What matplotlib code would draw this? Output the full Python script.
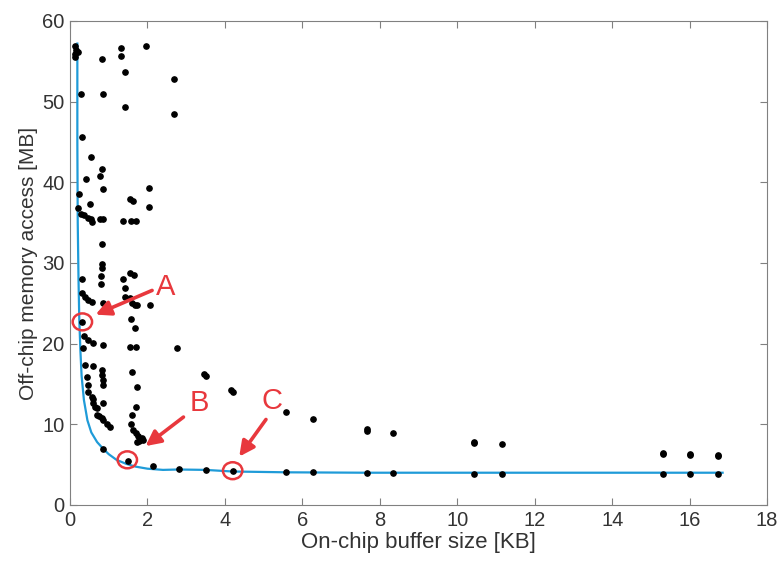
import matplotlib.pyplot as plt
from matplotlib.patches import Ellipse

plt.rcParams['font.family'] = ['Liberation Sans', 'DejaVu Sans']

# design points: buffer size [KB] vs off-chip traffic [MB]
buf_kb = [0.14, 0.15, 0.12, 0.20, 0.14,
          0.28, 0.31, 0.55, 0.83, 0.77, 0.42, 0.84, 0.24, 0.52, 0.21,
          0.29, 0.36, 0.46, 0.55, 0.57, 0.78, 0.84, 0.83, 0.83, 0.82,
          0.81, 0.81, 0.30, 0.30, 0.39, 0.47, 0.56, 0.86, 0.32, 0.36,
          0.47, 0.60, 0.86, 0.34, 0.39, 0.60, 0.82, 0.82, 0.84, 0.86,
          0.43, 0.47, 0.47, 0.56, 0.60, 0.60, 0.65, 0.69, 0.86, 0.69,
          0.76, 0.82, 0.86, 0.95, 1.03, 0.86,
          0.83, 0.84,
          1.31, 1.31, 1.41, 1.41, 1.38, 1.38, 1.41, 1.41,
          1.54, 1.62, 1.58, 1.71, 1.55, 1.65, 1.55, 1.59, 1.68, 1.74,
          1.57, 1.68, 1.55, 1.70, 1.59, 1.72, 1.70, 1.59, 1.57, 1.63,
          1.70, 1.76, 1.81, 1.85, 1.72, 1.79, 1.88,
          1.97, 2.03, 2.04, 2.07,
          2.69, 2.69, 2.77,
          3.47, 3.50, 4.17, 4.20, 5.57, 6.27, 7.66, 7.66, 8.35, 10.44,
          10.44, 11.15, 15.32, 15.32, 16.01, 16.01, 16.72, 16.72,
          1.51, 2.15, 2.82, 3.51, 4.20, 5.58, 6.27, 7.66, 8.35, 10.44,
          11.15, 15.32, 16.01, 16.72]
mem_mb = [56.9, 56.4, 55.9, 56.1, 55.5,
          50.9, 45.6, 43.1, 41.6, 40.8, 40.4, 39.2, 38.5, 37.3, 36.8,
          36.1, 35.9, 35.6, 35.4, 35.1, 35.4, 35.4, 32.4, 29.9, 29.4,
          28.4, 27.4, 28.0, 26.3, 25.8, 25.4, 25.2, 25.1, 22.7, 21.0,
          20.5, 20.1, 19.8, 19.5, 17.4, 17.2, 16.7, 16.1, 15.5, 14.9,
          15.9, 14.9, 14.0, 13.4, 13.2, 12.6, 12.2, 12.0, 12.6, 11.2,
          11.0, 10.8, 10.5, 10.1, 9.7, 7.0,
          55.3, 51.0,
          56.6, 55.6, 53.7, 49.3, 35.2, 28.0, 26.9, 25.8,
          37.9, 37.7, 35.2, 35.2, 28.8, 28.5, 25.6, 25.0, 24.8, 24.8,
          23.1, 21.9, 19.6, 19.6, 16.5, 14.6, 12.1, 11.2, 10.1, 9.3,
          8.9, 8.5, 8.1, 8.3, 7.8, 7.9, 8.0,
          56.9, 39.3, 36.9, 24.8,
          52.8, 48.5, 19.4,
          16.3, 16.0, 14.2, 14.0, 11.5, 10.7, 9.4, 9.2, 8.9, 7.8,
          7.7, 7.56, 6.5, 6.3, 6.36, 6.2, 6.24, 6.05,
          5.4, 4.8, 4.46, 4.34, 4.26, 4.09, 4.05, 4.0, 3.95, 3.9,
          3.9, 3.85, 3.82, 3.8]

# pareto front
front_x = [0.19, 0.19, 0.20, 0.22, 0.24, 0.27, 0.30, 0.36, 0.45, 0.55,
           0.70, 0.85, 1.00, 1.20, 1.45, 1.70, 2.00, 2.40, 2.80, 3.50,
           4.20, 5.60, 7.65, 10.45, 16.85]
front_y = [57.2, 45.0, 35.0, 28.0, 23.0, 19.0, 16.0, 13.0, 10.5, 9.0,
           7.8, 7.0, 6.3, 5.6, 5.1, 4.75, 4.5, 4.35, 4.4, 4.35,
           4.15, 4.05, 4.0, 4.0, 4.0]

# highlighted designs A, B, C
pick_x = [0.32, 1.48, 4.20]
pick_y = [22.7, 5.6, 4.25]
pick_names = ['A', 'B', 'C']
label_xy = [(2.48, 27.0), (3.34, 12.7), (5.21, 12.9)]
arrow_tail = [(2.12, 26.6), (2.93, 10.9), (5.06, 10.6)]
arrow_head = [(0.66, 23.6), (1.95, 7.3), (4.37, 6.0)]

red = '#e8383d'

fig = plt.figure(figsize=(7.82, 5.66), dpi=100)
ax = fig.add_axes([0.0895, 0.1078, 0.8915, 0.8551])

ax.plot(buf_kb, mem_mb, 'o', color='black', markersize=3.8, zorder=3)
ax.plot(front_x, front_y, '-', color='#1f9bd8', linewidth=1.6, zorder=2)

for px, py in zip(pick_x, pick_y):
    ax.add_patch(Ellipse((px, py), 0.5, 2.1, fill=False, edgecolor=red,
                         linewidth=1.8, zorder=4))
for name, lxy, t, h in zip(pick_names, label_xy, arrow_tail, arrow_head):
    ax.annotate('', xy=h, xytext=t,
                arrowprops=dict(arrowstyle='-|>,head_length=0.9,head_width=0.45',
                                color=red, lw=2.6, shrinkA=0, shrinkB=0),
                zorder=5)
    ax.text(lxy[0], lxy[1], name, color=red, fontsize=21,
            ha='center', va='center', zorder=5)

ax.set_xlim(0, 18)
ax.set_ylim(0, 60)
ax.set_xticks(range(0, 19, 2))
ax.set_yticks(range(0, 61, 10))
ax.tick_params(direction='in', top=True, right=True, length=5,
               color='#808080', labelcolor='#333333', labelsize=14.5, pad=4)
for s in ax.spines.values():
    s.set_color('#808080')
ax.set_xlabel('On-chip buffer size [KB]', fontsize=16, color='#333333',
              labelpad=2)
ax.set_ylabel('Off-chip memory access [MB]', fontsize=15, color='#333333',
              labelpad=3)

fig.savefig('out.png', dpi=100)
